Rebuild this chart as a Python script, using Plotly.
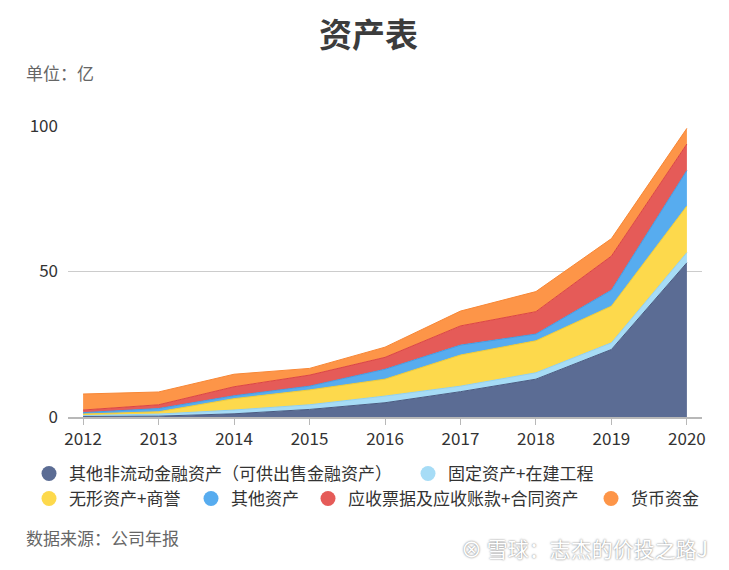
import plotly.graph_objects as go

years = [2012, 2013, 2014, 2015, 2016, 2017, 2018, 2019, 2020]
series_names = [
    "其他非流动金融资产（可供出售金融资产）",
    "固定资产+在建工程",
    "无形资产+商誉",
    "其他资产",
    "应收票据及应收账款+合同资产",
    "货币资金",
]
other_noncurrent_fin = [0.2, 0.3, 1.1, 2.6, 4.9, 8.7, 13.0, 23.2, 53.0]
fixed_assets = [0.3, 0.7, 1.3, 1.6, 2.3, 1.9, 2.2, 2.3, 3.5]
intangible_goodwill = [0.5, 0.8, 3.9, 5.1, 5.8, 10.7, 11.0, 12.6, 16.0]
other_assets = [0.5, 1.1, 1.0, 1.3, 3.4, 3.4, 2.3, 5.5, 12.2]
receivables = [0.9, 1.3, 3.1, 3.8, 4.1, 6.6, 7.7, 11.7, 9.1]
cash = [5.5, 4.4, 4.3, 2.3, 3.5, 5.1, 6.9, 6.0, 5.4]
y_ticks = [0, 50, 100]

series_values = [other_noncurrent_fin, fixed_assets, intangible_goodwill,
                 other_assets, receivables, cash]
fill_colors = ["#5b6c94", "#a6dcf6", "#fdd94c", "#57acef", "#e55b58", "#fd9548"]
line_colors = ["#4a5a80", "#8fd0f2", "#f5cc30", "#3f9de6", "#db4444", "#f88735"]

FONT = "Noto Sans CJK SC, Open Sans, sans-serif"

# page has an 8px body margin: figure is drawn from (8, 8)
OFF = 8
FIG_W, FIG_H = 729 - OFF, 570 - OFF
# plot area in page pixels
PL, PR, PT, PB = 68, 702, 126, 417
L, R, T, B = PL - OFF, PR - OFF, PT - OFF, PB - OFF
W, H = R - L, B - T


def px(p):  # page x pixel -> paper
    return (p - OFF - L) / W


def py(p):  # page y pixel -> paper
    return (B - (p - OFF)) / H


fig = go.Figure()
for i, (name, vals) in enumerate(zip(series_names, series_values)):
    fig.add_trace(go.Scatter(
        x=years, y=vals, name=name, mode="lines",
        stackgroup="one", fillcolor=fill_colors[i],
        line=dict(color=line_colors[i], width=1),
        legendgroup=f"g{i}", showlegend=False,
        hovertemplate="%{x}: %{y}亿<extra>" + name + "</extra>",
    ))

# Legend entries with circle markers, each positioned as in the original
legend_pos = [  # (circle centre page-px x, row)
    (49, 0), (428, 0), (49, 1), (211, 1), (328, 1), (611, 1)
]
row_y = [474, 499]
for i, name in enumerate(series_names):
    lname = "legend" if i == 0 else f"legend{i+1}"
    fig.add_trace(go.Scatter(
        x=[None], y=[None], mode="markers", name=name,
        marker=dict(color=fill_colors[i], size=15, symbol="circle"),
        legendgroup=f"g{i}", legend=lname, showlegend=True,
    ))
    cx, row = legend_pos[i]
    fig.layout[lname] = dict(
        x=px(cx - 20), xanchor="left",
        y=py(row_y[row]), yanchor="middle",
        orientation="h", bgcolor="rgba(0,0,0,0)",
        font=dict(family=FONT, size=17, color="#333333"),
        itemclick="toggle", tracegroupgap=0,
    )

fig.update_layout(
    width=FIG_W, height=FIG_H,
    margin=dict(l=L, r=FIG_W - R, t=T, b=FIG_H - B),
    paper_bgcolor="white", plot_bgcolor="white",
    title=dict(text="<b>资产表</b>", x=0.5, xanchor="center",
               y=1 - (35 - OFF) / FIG_H, yanchor="middle",
               font=dict(family=FONT, size=33, color="#3c3c3c")),
    font=dict(family=FONT, color="#333333"),
    xaxis=dict(
        range=[2011.8, 2020.2], tickmode="array", tickvals=years,
        ticktext=[str(y) for y in years],
        showgrid=False, zeroline=False,
        showline=True, linecolor="#b8b8b8", linewidth=1.5,
        ticks="outside", ticklen=6, tickcolor="#b8b8b8",
        tickfont=dict(family=FONT, size=17, color="#333333"),
        fixedrange=True,
    ),
    yaxis=dict(
        range=[0, 100], tickmode="array", tickvals=y_ticks,
        showgrid=True, gridcolor="#cccccc", gridwidth=1,
        zeroline=False, showline=False, ticks="",
        tickfont=dict(family=FONT, size=17, color="#333333"),
        ticklabelstandoff=9,
        fixedrange=True,
    ),
    annotations=[
        dict(text="单位：亿", xref="paper", yref="paper",
             x=px(24), y=py(72), xanchor="left", yanchor="middle",
             showarrow=False, font=dict(family=FONT, size=17, color="#666666")),
        dict(text="数据来源：公司年报", xref="paper", yref="paper",
             x=px(24), y=py(537), xanchor="left", yanchor="middle",
             showarrow=False, font=dict(family=FONT, size=17, color="#666666")),
        dict(text="⊗ 雪球：志杰的价投之路J", xref="paper", yref="paper",
             x=px(710), y=py(548), xanchor="right", yanchor="middle",
             showarrow=False,
             font=dict(family=FONT, size=21, color="#ffffff",
                       shadow="0px 0px 2px #666666")),
    ],
)

fig.write_html("out.html")
